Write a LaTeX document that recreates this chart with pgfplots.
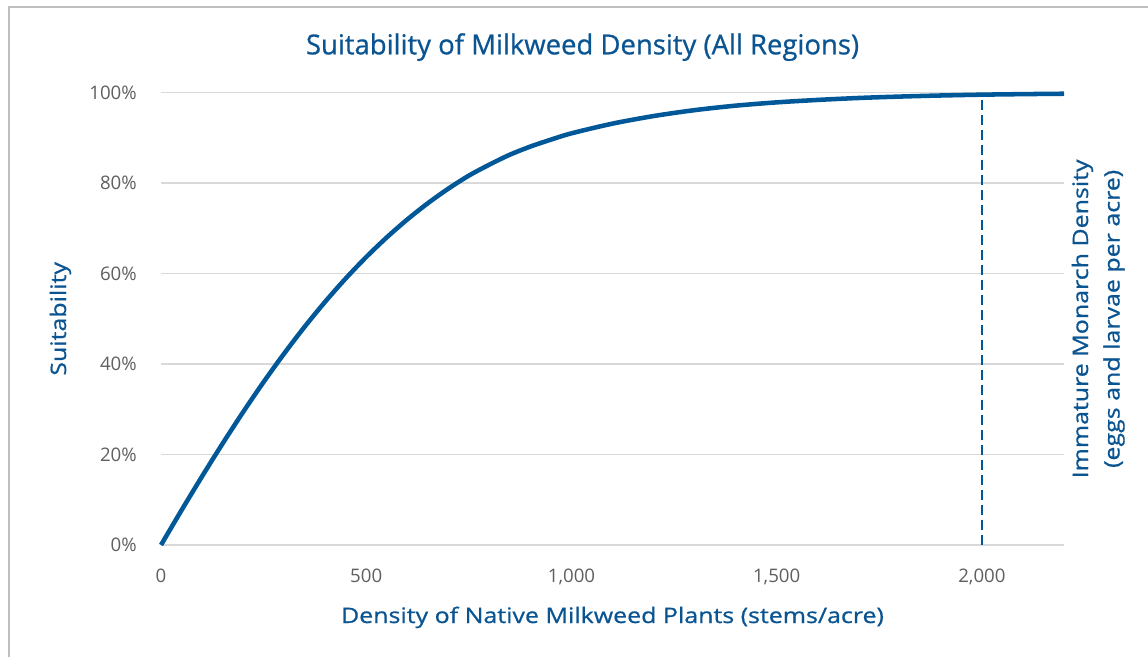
\documentclass[border=0pt]{standalone}
\usepackage{pgfplots}
\pgfplotsset{compat=1.18}
\usepackage{fontspec}
\setmainfont{Open Sans}
\newfontfamily\labfont[FakeStretch=1.17, FakeBold=0.8]{Open Sans}
\newfontfamily\titfont[FakeBold=0.8]{Open Sans}
\definecolor{mblue}{RGB}{0,88,152}
\definecolor{tblue}{RGB}{10,84,145}
\definecolor{tgray}{RGB}{95,95,95}
\definecolor{gridc}{RGB}{217,217,217}
\definecolor{bordc}{RGB}{191,191,191}
\begin{document}
\begin{tikzpicture}
\useasboundingbox (0,0) rectangle (861pt,492.75pt);
\draw[bordc, line width=1.5pt] (6.375pt,0) -- (6.375pt,487.275pt) -- (861pt,487.275pt);
\begin{axis}[
  at={(120.75pt,84pt)}, anchor=south west,
  scale only axis, width=677.25pt, height=339.2pt,
  xmin=0, xmax=2200, ymin=0, ymax=100,
  xtick={0,500,1000,1500,2000},
  ytick={0,20,40,60,80,100},
  axis line style={draw=none},
  major tick length=0pt,
  ymajorgrids, grid style={gridc, line width=1.1pt},
  /pgf/number format/assume math mode=true,
  /pgf/number format/1000 sep={,},
  tick label style={font=\fontsize{14}{16}\selectfont, text=tgray, inner sep=0pt},
  xticklabel style={anchor=north, yshift=-18pt},
  yticklabel style={anchor=east, xshift=-18pt},
  yticklabel={\pgfmathprintnumber{\tick}\%},
  xlabel={Density of Native Milkweed Plants (stems/acre)},
  ylabel={Suitability},
  label style={font=\labfont\fontsize{16}{18}\selectfont, text=tblue, inner sep=0pt},
  xlabel style={at={(axis description cs:0.5,0)}, anchor=base, yshift=-58.5pt},
  ylabel style={at={(axis description cs:-0.1052,0.5)}, anchor=base},
  title={Suitability of Milkweed Density (All Regions)},
  title style={font=\titfont\fontsize{20.6}{23}\selectfont, text=tblue, inner sep=0pt, at={(axis description cs:0.4668,1)}, anchor=base, yshift=22.8pt},
  clip=false,
]
\addplot[mblue, line width=1.5pt, dash pattern=on 7.5pt off 3.75pt] coordinates {(2000,0) (2000,99.6)};
\addplot[mblue, line width=3.4pt, smooth] table {
x y
0 0
50 7.68
100 15.17
150 22.42
200 29.39
250 36.04
300 42.33
350 48.26
400 53.79
450 58.93
500 63.67
550 68.01
600 71.97
650 75.56
700 78.79
750 81.67
800 84.10
850 86.30
900 88.10
950 89.63
1000 91.02
1100 93.17
1200 94.84
1300 96.15
1400 97.14
1500 97.87
1600 98.41
1700 98.84
1800 99.15
1900 99.39
2000 99.57
2100 99.69
2200 99.78
};
\node[rotate=90, anchor=base, font=\labfont\fontsize{16}{18}\selectfont, text=tblue, inner sep=0pt] at (axis description cs:1.0266,0.5) {Immature Monarch Density};
\node[rotate=90, anchor=base, font=\labfont\fontsize{16}{18}\selectfont, text=tblue, inner sep=0pt] at (axis description cs:1.0615,0.5) {(eggs and larvae per acre)};
\end{axis}
\end{tikzpicture}
\end{document}
